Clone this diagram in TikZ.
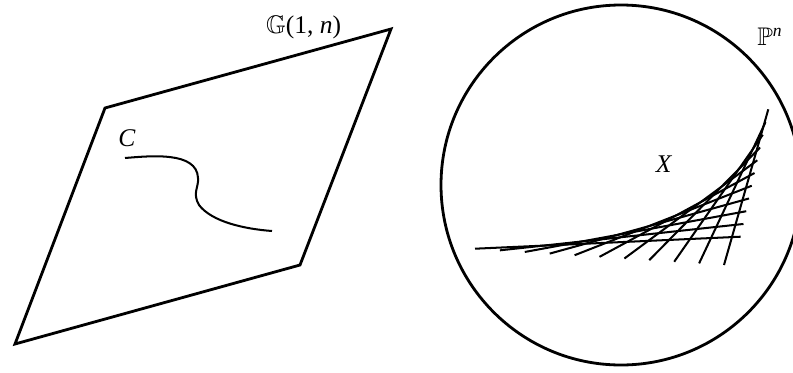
\documentclass[tikz,border=0pt]{standalone}
\usepackage{amssymb}
\usepackage{fontspec}
\setmainfont{Liberation Serif}
\tikzset{
  outline/.style={line width=1.6pt,line join=miter},
  ruling/.style={line width=1.15pt},
  lab/.style={font=\fontsize{14.5}{17}\selectfont,inner sep=0pt}
}
\begin{document}
\begin{tikzpicture}[x=0.02cm,y=-0.02cm]
    \useasboundingbox (0,0) rectangle (793,372);
    \begin{scope}
      \clip (0,0) rectangle (793,372);
      \draw[outline] (621,185) circle (180);
    \end{scope}
    \draw[outline] (105,108) -- (391,29) -- (300,265) -- (15,344) -- cycle;
    \draw[ruling] (125,158) .. controls (150,156) and (197,151) .. (198,178)
      .. controls (199,187) and (192,193) .. (199,205)
      .. controls (212,222) and (245,229) .. (272,231);
    \foreach \i in {0,...,10}
      \draw[ruling] ({475+24.9*\i},{248.7+1.63*\i}) -- ({740.7+2.76*\i},{236.7-12.74*\i});
    \node[lab] (grass) at (303.5,27) {$\mathbb{G}$(1, \textit{n})};
    \node[lab] (proj) at (770,37) {$\mathbb{P}^{\mbox{\fontsize{10}{10}\selectfont\textit{n}}}$};
    \node[lab] (curve) at (127,138) {\textit{C}};
    \node[lab] (var) at (664,164) {\textit{X}};
  \end{tikzpicture}
\end{document}
